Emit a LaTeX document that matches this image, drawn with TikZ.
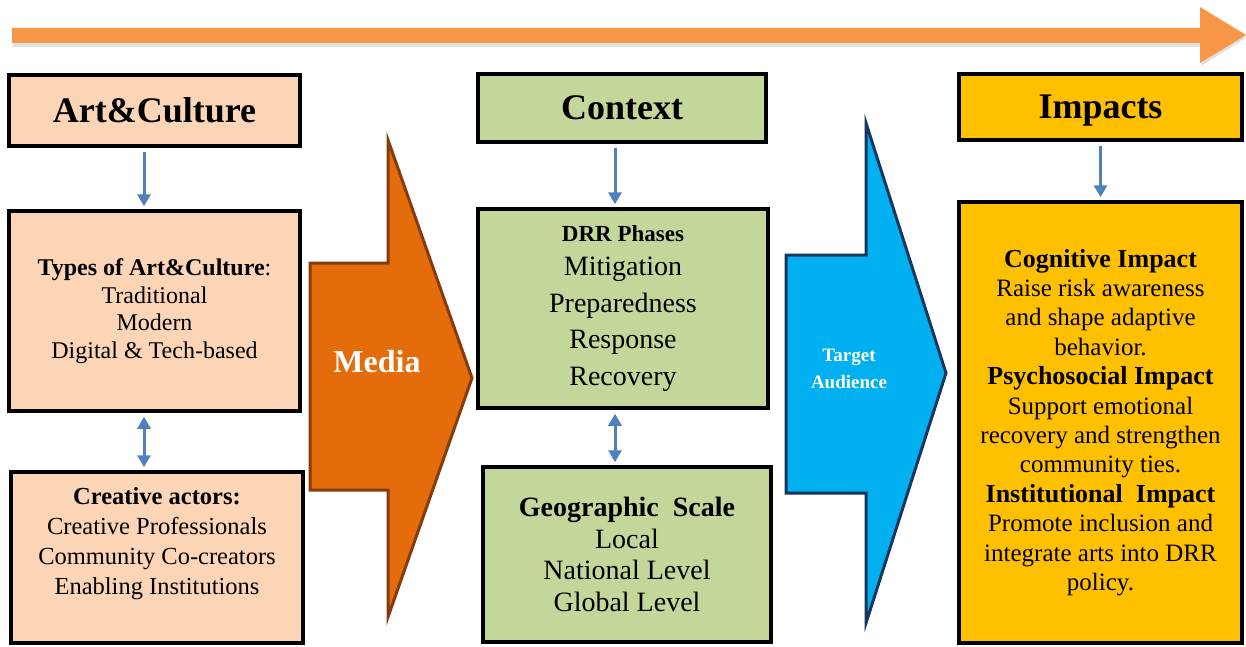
\documentclass[tikz,border=0pt]{standalone}
\usepackage{fontspec}
\setmainfont{LiberationSerif}[Extension=.ttf, UprightFont=*-Regular, BoldFont=*-Bold,
    ItalicFont=*-Italic, BoldItalicFont=*-BoldItalic]
\usetikzlibrary{arrows.meta}

\definecolor{peach}{HTML}{FBD5B5}
\definecolor{sage}{HTML}{C4D79B}
\definecolor{gold}{HTML}{FFC000}
\definecolor{mediaorange}{HTML}{E46C0A}
\definecolor{mediabrown}{HTML}{843C0C}
\definecolor{audblue}{HTML}{00B0F0}
\definecolor{audnavy}{HTML}{17365D}
\definecolor{linkblue}{HTML}{4F81BD}
\definecolor{timeline}{HTML}{F79646}

\begin{document}
\begin{tikzpicture}[x=1pt, y=-1pt,
                    line width=3.5pt,
                    >={Triangle[width=13pt,length=12pt]},
                    ]
    \tikzstyle{panel}=[draw=black, line width=3.5pt, inner sep=0pt, align=center]
    \tikzstyle{title}=[panel, font=\bfseries\fontsize{36}{40}\selectfont, text height=24pt, text depth=0pt]
    \tikzstyle{artbox}=[panel, fill=peach]
    \tikzstyle{ctxbox}=[panel, fill=sage]
    \tikzstyle{impbox}=[panel, fill=gold]
    \tikzstyle{link}=[draw=linkblue, fill=linkblue, line width=3pt, shorten >=3pt, shorten <=4pt]
    \tikzstyle{bigarrow}=[line width=3pt, line join=miter]
    \tikzstyle{arrowtext}=[text=white, font=\bfseries, align=center]

    \useasboundingbox (0,0) rectangle (1246,647);

    % timeline arrow
    \fill[black!12] (13,32) -- (1201,32) -- (1201,10) -- (1246,38) -- (1201,66) -- (1201,47) -- (13,47) -- cycle;
    \fill[timeline] (12,28) -- (1200,28) -- (1200,7) -- (1246,35) -- (1200,63) -- (1200,43) -- (12,43) -- cycle;

    % art & culture
    \node[title, fill=peach, minimum width=291pt, minimum height=71pt] (artc) at (154.5,110.5) {Art\&Culture};
    \node[artbox, minimum width=291pt, minimum height=200pt, font=\fontsize{24}{27.5}\selectfont] (types) at (154.5,311)
        {\textbf{Types of Art\&Culture}:\\Traditional\\Modern\\Digital \& Tech-based};
    \node[artbox, minimum width=292pt, minimum height=171pt] (actors) at (157,557.5) {};
    \node[font=\fontsize{24.5}{30}\selectfont, align=center] (actorslist) at (157,544)
        {\textbf{Creative actors:}\\Creative Professionals\\Community Co-creators\\Enabling Institutions};

    % context
    \node[title, fill=sage, minimum width=288pt, minimum height=68pt] (context) at (622,108) {Context};
    \node[ctxbox, minimum width=290pt, minimum height=199pt, font=\fontsize{28}{36.5}\selectfont] (phases) at (623,308.5)
        {{\bfseries\fontsize{23}{26}\selectfont DRR Phases}\\[-2pt]Mitigation\\Preparedness\\Response\\Recovery};
    \node[ctxbox, minimum width=288pt, minimum height=175pt, font=\fontsize{28}{31.5}\selectfont] (scale) at (627,554.5)
        {\textbf{Geographic\ \ Scale}\\Local\\National Level\\Global Level};

    % impacts
    \node[title, fill=gold, minimum width=283pt, minimum height=66pt] (impacts) at (1100.5,107) {Impacts};
    \node[impbox, minimum width=283pt, minimum height=441pt, font=\fontsize{25}{29.4}\selectfont] (effects) at (1100.5,422.5)
        {{\bfseries\fontsize{26}{29.4}\selectfont Cognitive Impact}\\Raise risk awareness\\and shape adaptive\\behavior.\\
         {\bfseries\fontsize{26}{29.4}\selectfont Psychosocial Impact}\\Support emotional\\recovery and strengthen\\community ties.\\
         {\bfseries\fontsize{26}{29.4}\selectfont Institutional\ \ Impact}\\Promote inclusion and\\integrate arts into DRR\\policy.};

    % media and audience
    \draw[bigarrow, draw=mediabrown, fill=mediaorange] (310,263) -- (388,263) -- (388,140) -- (472,378)
        -- (388,617) -- (388,490) -- (310,490) -- cycle;
    \node[arrowtext, font=\bfseries\fontsize{32}{36}\selectfont] (media) at (377,362) {Media};
    \draw[bigarrow, draw=audnavy, fill=audblue] (786,255) -- (866,255) -- (866,123) -- (946,373)
        -- (866,623) -- (866,493) -- (786,493) -- cycle;
    \node[arrowtext, font=\bfseries\fontsize{19}{27}\selectfont] (audience) at (849,369) {Target\\Audience};

    % links
    \draw[link, ->] ([xshift=-10.5pt]artc.south) -- ([xshift=-10.5pt]types.north);
    \draw[link, <->] ([xshift=-10.5pt]types.south) -- ([xshift=-13pt]actors.north);
    \draw[link, ->] ([xshift=-7pt]context.south) -- ([xshift=-8pt]phases.north);
    \draw[link, <->] ([xshift=-8pt]phases.south) -- ([xshift=-12pt]scale.north);
    \draw[link, ->] (impacts) -- (effects);
\end{tikzpicture}
\end{document}
